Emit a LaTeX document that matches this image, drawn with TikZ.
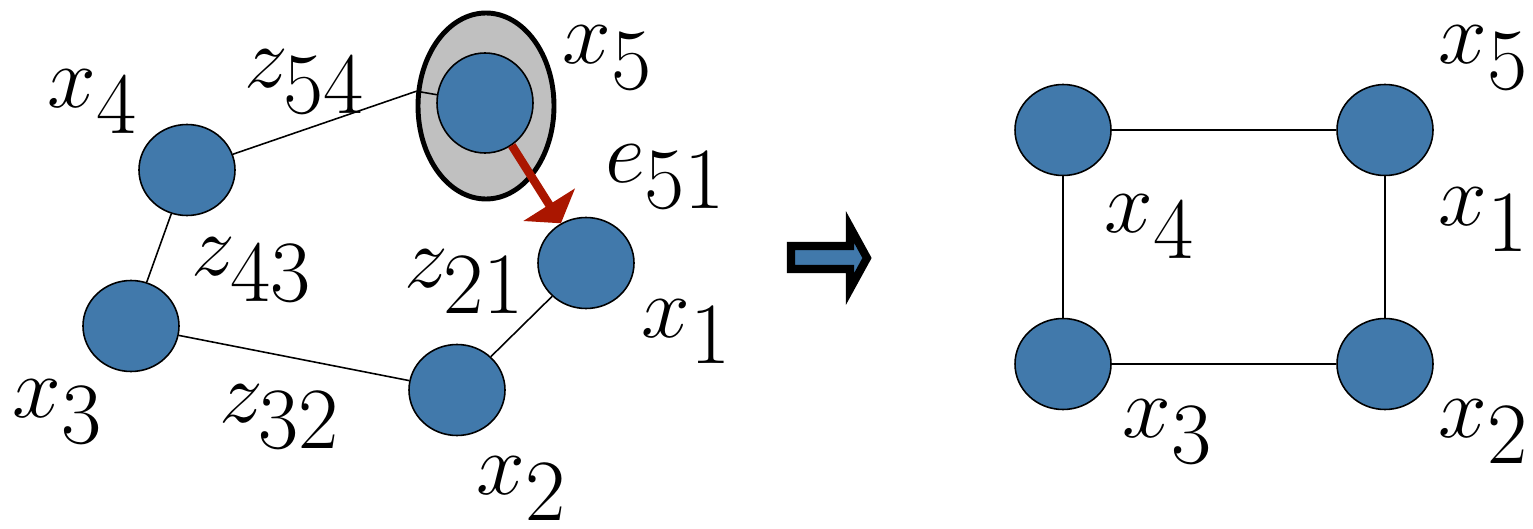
\documentclass[tikz,border=0pt]{standalone}
\usepackage{amsmath}
\usepackage{xcolor}
\usetikzlibrary{arrows.meta,positioning,shapes.geometric}
\definecolor{nodeblue}{RGB}{65,121,171}
\definecolor{arrred}{RGB}{170,22,0}
\definecolor{selgray}{RGB}{192,192,192}

\begin{document}
\begin{tikzpicture}[
  nd/.style={ellipse,draw=black,line width=0.45pt,fill=nodeblue,inner sep=0pt,
             minimum width=0.96cm,minimum height=0.91cm},
  sel/.style={ellipse,draw=black,line width=1.4pt,fill=selgray,inner sep=0pt,
             minimum width=1.36cm,minimum height=1.86cm},
  ed/.style={line width=0.45pt},
  lb/.style={inner sep=0pt,font=\fontsize{34}{40}\selectfont}
]
\useasboundingbox (0,0) rectangle (15.33,5.28);
% ---- left graph: before the merge ----
\node[sel] (s5) at (4.86,4.22) {};
\node[nd]  (x4) at (1.87,3.58) {};
\node[nd]  (x3) at (1.31,2.02) {};
\node[nd]  (x2) at (4.57,1.38) {};
\node[nd]  (x1) at (5.86,2.65) {};
\node[nd,minimum height=1.0cm] (x5) at (4.85,4.25) {};
\draw[ed](x4)--(s5.180-12); \draw[ed](s5.180-12)--(x5);
\draw[ed](x4)--(x3); \draw[ed](x3)--(x2); \draw[ed](x2)--(x1);
\draw[arrred,line width=2.4pt,-{Triangle[width=6mm,length=2.2mm]}] (x5)--(x1);
\node[lb] (lx4)  at (0.93,4.26) {$x_4$};
\node[lb] (lz54) at (3.05,4.46) {$z_{54}$};
\node[lb] (lx5)  at (6.08,4.70) {$x_5$};
\node[lb] (le51) at (6.66,3.51) {$e_{51}$};
\node[lb] (lz43) at (2.52,2.58) {$z_{43}$};
\node[lb] (lz21) at (4.65,2.46) {$z_{21}$};
\node[lb] (lx3)  at (0.58,1.16) {$x_3$};
\node[lb] (lz32) at (2.80,1.11) {$z_{32}$};
\node[lb] (lx1)  at (6.87,1.96) {$x_1$};
\node[lb] (lx2)  at (5.22,0.39) {$x_2$};
% ---- block arrow ----
\draw[line width=2.3pt,line join=miter,fill=nodeblue]
  (7.91,2.59) -- (8.50,2.59) -- (8.50,2.39) -- (8.67,2.70) -- (8.50,3.01)
  -- (8.50,2.82) -- (7.91,2.82) -- cycle;
% ---- right graph: after the merge ----
\node[nd] (r4) at (10.63,3.98) {};
\node[nd] (r5) at (13.85,3.98) {};
\node[nd] (r3) at (10.63,1.64) {};
\node[nd] (r2) at (13.85,1.64) {};
\draw[ed](r4)--(r5); \draw[ed](r4)--(r3);
\draw[ed](r3)--(r2); \draw[ed](r5)--(r2);
\node[lb] (rx5) at (14.84,4.70) {$x_5$};
\node[lb] (rx4) at (11.50,3.01) {$x_4$};
\node[lb] (rx1) at (14.84,3.08) {$x_1$};
\node[lb] (rx3) at (11.68,0.96) {$x_3$};
\node[lb] (rx2) at (14.84,0.96) {$x_2$};
\end{tikzpicture}
\end{document}
